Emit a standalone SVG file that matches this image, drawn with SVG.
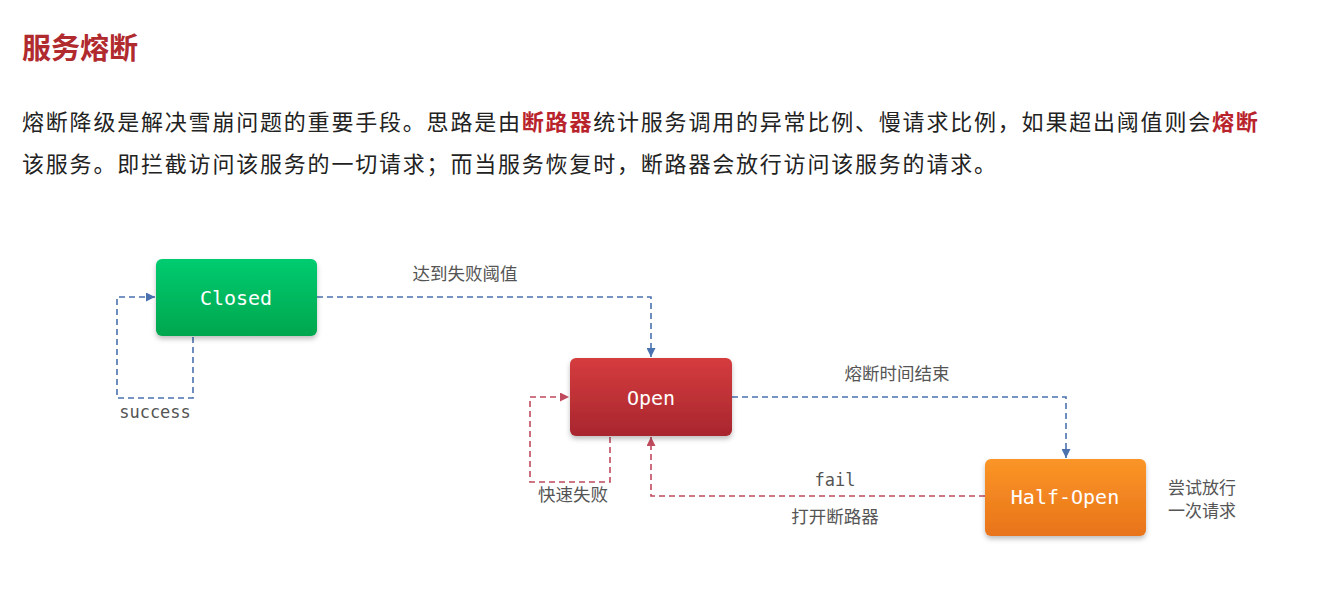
<svg xmlns="http://www.w3.org/2000/svg" width="1317" height="601" viewBox="0 0 1317 601">
<style>
.cjk{font-family:"Noto Sans CJK SC","Noto Sans",sans-serif;}
.para{font-size:22px;fill:#222;letter-spacing:1.8px;}
.hl{fill:#b8232c;font-weight:bold;}
.lbl{font-size:17.5px;fill:#555;}
.mono{font-family:"DejaVu Sans Mono","Liberation Mono",monospace;}
.ntext{font-size:20px;fill:#fff;text-anchor:middle;}
.blue{fill:none;stroke:#4a72b0;stroke-width:1.6;stroke-dasharray:6 4;}
.red{fill:none;stroke:#c04a5e;stroke-width:1.6;stroke-dasharray:6 4;}
</style>
<defs>
<linearGradient id="gGreen" x1="0" y1="0" x2="0" y2="1"><stop offset="0" stop-color="#00cc70"/><stop offset="1" stop-color="#00a64e"/></linearGradient>
<linearGradient id="gRed" x1="0" y1="0" x2="0" y2="1"><stop offset="0" stop-color="#d53c3e"/><stop offset="1" stop-color="#a8262e"/></linearGradient>
<linearGradient id="gOrange" x1="0" y1="0" x2="0" y2="1"><stop offset="0" stop-color="#fb9526"/><stop offset="1" stop-color="#e8741a"/></linearGradient>
<filter id="sh" x="-10%" y="-10%" width="120%" height="130%"><feDropShadow dx="0" dy="3" stdDeviation="2.5" flood-color="#000" flood-opacity="0.25"/></filter>
<marker id="aBlue" viewBox="0 0 10 10" refX="10" refY="5" markerWidth="9" markerHeight="9" markerUnits="userSpaceOnUse" orient="auto"><path d="M0,0 L10,5 L0,10 Z" fill="#4a72b0"/></marker>
<marker id="aRed" viewBox="0 0 10 10" refX="10" refY="5" markerWidth="9" markerHeight="9" markerUnits="userSpaceOnUse" orient="auto"><path d="M0,0 L10,5 L0,10 Z" fill="#c04a5e"/></marker>
</defs>
<rect width="1317" height="601" fill="#fff"/>
<g id="header">
<text x="22" y="59" class="cjk" font-size="29" font-weight="bold" fill="#b02a2e">服务熔断</text>
<text x="22" y="130" class="cjk para">熔断降级是解决雪崩问题的重要手段。思路是由<tspan class="hl">断路器</tspan>统计服务调用的异常比例、慢请求比例，如果超出阈值则会<tspan class="hl">熔断</tspan></text>
<text x="22" y="172" class="cjk para">该服务。即拦截访问该服务的一切请求；而当服务恢复时，断路器会放行访问该服务的请求。</text>
</g>
<g id="connectors">
<path class="blue" d="M317,297 H651 V357" marker-end="url(#aBlue)"/>
<path class="blue" d="M193,337 V398 H117 V297 H155" marker-end="url(#aBlue)"/>
<path class="blue" d="M732,397 H1066 V458" marker-end="url(#aBlue)"/>
<path class="red" d="M610,437 V482 H530 V397 H569" marker-end="url(#aRed)"/>
<path class="red" d="M985,496 H651 V437" marker-end="url(#aRed)"/>
<text x="465" y="280" class="cjk lbl" text-anchor="middle">达到失败阈值</text>
<text x="155" y="418" class="mono" font-size="17" fill="#555" text-anchor="middle">success</text>
<text x="897" y="380" class="cjk lbl" text-anchor="middle">熔断时间结束</text>
<text x="573" y="501" class="cjk lbl" text-anchor="middle">快速失败</text>
<text x="835" y="486" class="mono" font-size="17" fill="#555" text-anchor="middle">fail</text>
<text x="835" y="523" class="cjk lbl" text-anchor="middle">打开断路器</text>
</g>
<g id="closed">
<rect x="156" y="259" width="161" height="77" rx="6" fill="url(#gGreen)" filter="url(#sh)"/>
<text x="236" y="305" class="mono ntext">Closed</text>
</g>
<g id="open">
<rect x="570" y="358" width="162" height="78" rx="6" fill="url(#gRed)" filter="url(#sh)"/>
<text x="651" y="405" class="mono ntext">Open</text>
</g>
<g id="half-open">
<rect x="985" y="459" width="161" height="77" rx="6" fill="url(#gOrange)" filter="url(#sh)"/>
<text x="1065" y="504" class="mono ntext">Half-Open</text>
</g>
<g id="note">
<text x="1168" y="494" class="cjk" font-size="17" fill="#555">尝试放行</text>
<text x="1168" y="517" class="cjk" font-size="17" fill="#555">一次请求</text>
</g>
</svg>
